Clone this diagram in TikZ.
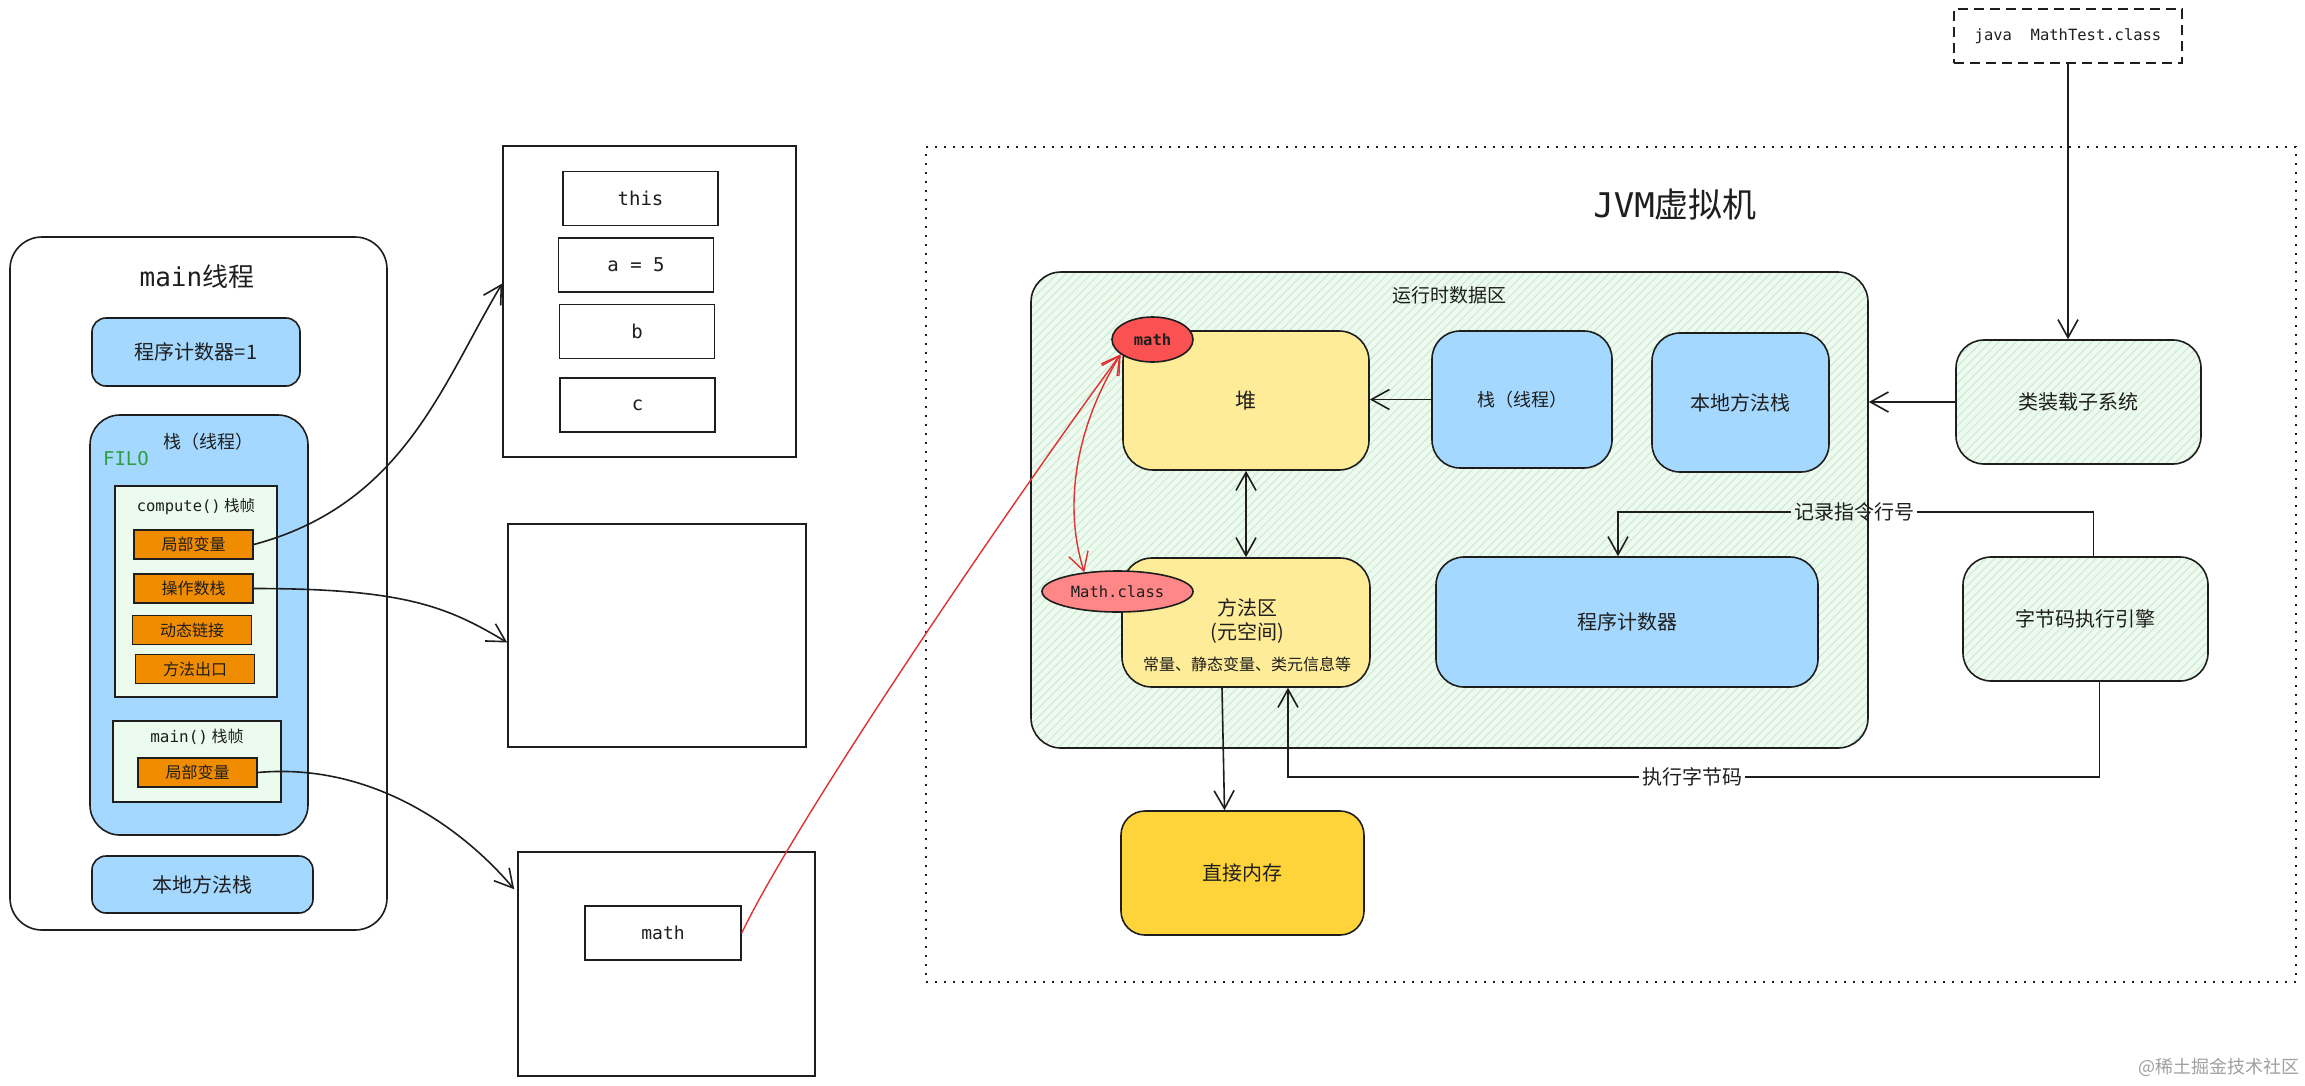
\documentclass[tikz,border=0pt]{standalone}
\usepackage{fontspec}
\setmainfont{Noto Sans CJK SC}
\newfontfamily\mono{DejaVu Sans Mono}
\usetikzlibrary{arrows.meta,patterns.meta,calc,shapes.geometric}
\definecolor{ink}{HTML}{1E1E1E}
\definecolor{cblue}{HTML}{A5D8FF}
\definecolor{cyellow}{HTML}{FFEC99}
\definecolor{corange}{HTML}{F08C00}
\definecolor{cframe}{HTML}{EBFBEE}
\definecolor{cdmem}{HTML}{FFD43B}
\definecolor{cred}{HTML}{FA5252}
\definecolor{cpink}{HTML}{FF8787}
\definecolor{credline}{HTML}{E03131}
\definecolor{cfilo}{HTML}{2F9E44}
\definecolor{chfill}{HTML}{EEFAF0}
\definecolor{chline}{HTML}{C8EBCF}
\definecolor{cwm}{HTML}{A0A0A0}
\newcommand\setfs[2]{\fontsize{#1}{#2}\selectfont}
\begin{document}
\begin{tikzpicture}[x=1pt,y=-1pt,
  bx/.style={draw=ink, line width=1.6pt, inner sep=0pt, text=ink},
  rb/.style={bx, rounded corners=#1},
  sz/.style 2 args={minimum width=#1, minimum height=#2},
  txt/.style={inner sep=0pt, text=ink},
  lbl/.style={inner sep=3pt, text=ink, font=\setfs{20}{24}},
  slot/.style={bx, fill=corange, minimum width=119pt, minimum height=29pt, font=\setfs{16}{19}},
  cell/.style={bx, line width=1.4pt, minimum width=155pt, minimum height=54pt, font=\mono\setfs{19}{22}},
  hatch/.style={preaction={fill=chfill}, preaction={pattern={Lines[angle=45,distance=6pt,line width=1pt]}, pattern color=chline}},
  conn/.style={draw=ink, line width=1.6pt},
  redc/.style={draw=credline, line width=1.4pt},
  arr/.style={-{Straight Barb[length=18pt,width=20pt]}},
  dbl/.style={{Straight Barb[length=18pt,width=20pt]}-{Straight Barb[length=18pt,width=20pt]}}
]
\fill[white] (0,0) rectangle (2305,1085);
\useasboundingbox (0,0) rectangle (2305,1085);

% ---------- main thread ----------
\node[rb=32pt, sz={377pt}{693pt}] (mthr) at (198.5,583.5) {};
\node[txt, font=\setfs{26}{30}] (mthrT) at (197,277) {{\mono main}线程};
\node[rb=14pt, fill=cblue, sz={208pt}{68pt}, font=\setfs{20}{24}] (pc1) at (196,352) {程序计数器=1};
\node[rb=30pt, fill=cblue, sz={218pt}{420pt}] (stk) at (199,625) {};
\node[txt, font=\setfs{18}{22}] (stkT) at (208,442) {栈（线程）};
\node[txt, text=cfilo, font=\mono\setfs{19}{22}] (filo) at (126,459) {FILO};
\node[bx, fill=cframe, sz={162pt}{211pt}] (cfr) at (196,591.5) {};
\node[txt, font=\setfs{15.5}{19}] (cfrT) at (196,507) {{\mono compute()} 栈帧};
\node[slot] (lv1) at (193.5,544.5) {局部变量};
\node[slot] (ops) at (193.5,588.5) {操作数栈};
\node[slot] (dyn) at (192,630) {动态链接};
\node[slot] (ret) at (195,669) {方法出口};
\node[bx, fill=cframe, sz={168pt}{81pt}] (mfr) at (197,761.5) {};
\node[txt, font=\setfs{16}{19}] (mfrT) at (197,737) {{\mono main()} 栈帧};
\node[slot] (lv2) at (197.5,772.5) {局部变量};
\node[rb=14pt, fill=cblue, sz={221pt}{57pt}, font=\setfs{20}{24}] (nms1) at (202.5,884.5) {本地方法栈};

% ---------- middle frames ----------
\node[bx, sz={293pt}{311pt}] (fr1) at (649.5,301.5) {};
\node[cell] (cthis) at (640.5,198.5) {this};
\node[cell] (ca) at (636,265) {a = 5};
\node[cell] (cb) at (637,331.5) {b};
\node[cell] (cc) at (637.5,405) {c};
\node[bx, sz={298pt}{223pt}] (fr2) at (657,635.5) {};
\node[bx, sz={297pt}{224pt}] (fr3) at (666.5,964) {};
\node[cell, minimum width=156pt, font=\mono\setfs{18}{22}] (mref) at (663,933) {math};

% ---------- JVM ----------
\node[draw=ink, line width=1.8pt, dash pattern=on 2pt off 7pt, sz={1370pt}{835pt}] (jvm) at (1611,564.5) {};
\node[txt, font=\setfs{34}{40}] (jvmT) at (1675,205) {{\mono JVM}虚拟机};
\node[rb=30pt, hatch, sz={837pt}{476pt}] (rda) at (1449.5,510) {};
\node[txt, font=\setfs{19}{22}] (rdaT) at (1449,295) {运行时数据区};
\node[rb=30pt, fill=cyellow, sz={246pt}{139pt}, font=\setfs{21}{24}] (heap) at (1246,400.5) {堆};
\node[rb=30pt, fill=cyellow, sz={248pt}{129pt}] (ma) at (1246,622.5) {};
\node[txt, font=\setfs{20}{24}] (maT1) at (1247,608) {方法区};
\node[txt, font=\setfs{20}{24}] (maT2) at (1247,633) {(元空间)};
\node[txt, font=\setfs{16}{19}] (maT3) at (1247,664) {常量、静态变量、类元信息等};
\node[rb=28pt, fill=cblue, sz={180pt}{137pt}, font=\setfs{18}{22}] (stk2) at (1522,399.5) {栈（线程）};
\node[rb=28pt, fill=cblue, sz={177pt}{139pt}, font=\setfs{20}{24}] (nms2) at (1740.5,402.5) {本地方法栈};
\node[rb=28pt, fill=cblue, sz={382pt}{130pt}, font=\setfs{20}{24}] (pc2) at (1627,622) {程序计数器};
\node[rb=28pt, hatch, sz={245pt}{124pt}, font=\setfs{20}{24}] (cl) at (2078.5,402) {类装载子系统};
\node[rb=28pt, hatch, sz={245pt}{124pt}, font=\setfs{20}{24}] (eng) at (2085.5,619) {字节码执行引擎};
\node[bx, dash pattern=on 10pt off 6pt, sz={228pt}{54pt}, font=\mono\setfs{15.5}{18}] (jcmd) at (2068,36) {java\ \ MathTest.class};
\node[rb=24pt, fill=cdmem, sz={243pt}{124pt}, font=\setfs{20}{24}] (dm) at (1242.5,873) {直接内存};
\node[ellipse, draw=ink, line width=1.6pt, fill=cred, inner sep=0pt, minimum width=81pt, minimum height=45pt, text=ink, font=\mono\bfseries\setfs{15.5}{18}] (mE) at (1152.5,339.5) {math};
\node[ellipse, draw=ink, line width=1.6pt, fill=cpink, inner sep=0pt, minimum width=151pt, minimum height=41pt, text=ink, font=\mono\setfs{15.5}{18}] (mcE) at (1117.5,591.5) {Math.class};

\node[txt, text=cwm, font=\setfs{18}{20}] (wm) at (2219,1067) {@稀土掘金技术社区};

% ---------- connectors ----------
\draw[conn,arr] (lv1.east) .. controls +(150,-40) and +(-60,100) .. ($(fr1.west)+(0,-18)$);
\draw[conn,arr] (ops.east) .. controls +(150,0) and +(-60,-36) .. ($(fr2.west)+(0,7)$);
\draw[conn,arr] (lv2.east) .. controls +(110,-10) and +(-55,-65) .. ($(fr3.north west)+(-3,38)$);

\draw[conn,arr] (jcmd.south) -- (jcmd.south |- cl.north);
\draw[conn,arr] (cl.west) -- (cl.west -| rda.east);
\draw[conn,arr] (stk2.west) -- (stk2.west -| heap.east);
\draw[conn,dbl] (heap.south) -- (heap.south |- ma.north);

\node[lbl] (recL) at (1854,512) {记录指令行号};
\draw[conn] ([xshift=8pt]eng.north) |- (recL.east);
\draw[conn,arr] (recL.west) -| ([xshift=-9pt]pc2.north);

\node[lbl] (exeL) at (1692,777) {执行字节码};
\draw[conn] ([xshift=14pt]eng.south) |- (exeL.east);
\draw[conn,arr] (exeL.west) -| ([xshift=42pt]ma.south);

\draw[conn,arr] ([xshift=-24pt]ma.south) -- ([xshift=-18pt]dm.north);

\draw[redc,arr] (mref.east) .. controls +(60,-124) and +(-90,121) .. (mE.205);
\draw[redc,dbl] (mE.205) .. controls +(-41,66) and +(-23,-73) .. (mcE.150);
\end{tikzpicture}
\end{document}
